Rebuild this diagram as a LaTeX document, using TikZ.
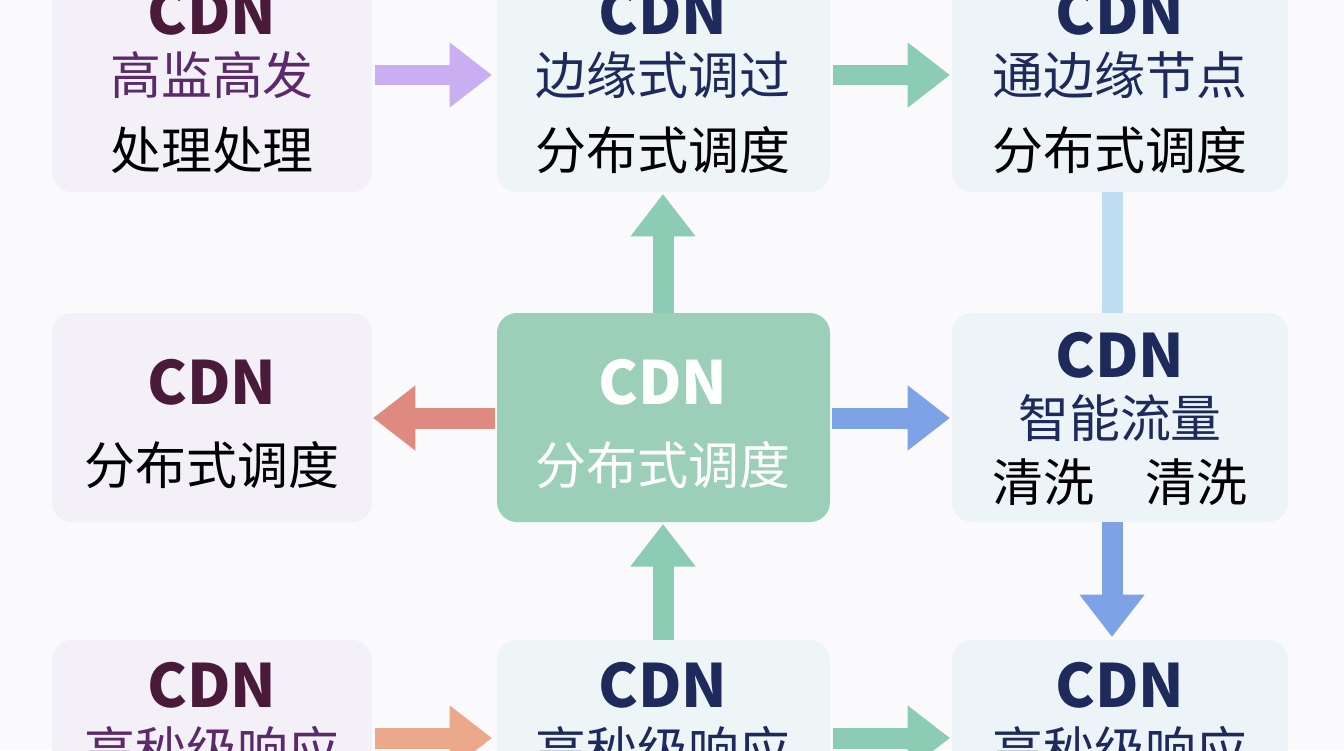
\documentclass[tikz,border=0pt]{standalone}
\usepackage{fontspec}
\setmainfont{Noto Sans CJK SC}
\usetikzlibrary{arrows.meta}
\definecolor{cdnp}{HTML}{4A1A3A}
\definecolor{cdnn}{HTML}{1E2A5C}
\definecolor{zhp}{HTML}{5A2A6A}
\definecolor{boxa}{HTML}{F3F0F8}
\definecolor{boxb}{HTML}{EEF5F7}
\definecolor{boxc}{HTML}{EDF4F8}
\definecolor{ctr}{HTML}{9CCFB8}
\definecolor{apur}{HTML}{C9AEF2}
\definecolor{atea}{HTML}{8CCBB4}
\definecolor{ared}{HTML}{DE8A80}
\definecolor{ablu}{HTML}{7EA2E6}
\definecolor{alb}{HTML}{BFDDF2}
\definecolor{aor}{HTML}{EBA88A}
\definecolor{bg}{HTML}{FAFAFD}
\begin{document}
\begin{tikzpicture}[x=0.02cm,y=-0.02cm,
 box/.style={rounded corners=0.4cm,draw=none},
 cdn/.style={font=\fontsize{34}{36}\selectfont\bfseries},
 zh/.style={font=\fontsize{29}{32}\selectfont},
 arr/.style={line width=0.42cm,-{Triangle[length=0.85cm,width=1.25cm]}}]
\useasboundingbox (0,0) rectangle (1344,750);
\fill[bg] (0,0) rectangle (1344,750);
\begin{scope}
\clip (0,0) rectangle (1344,750);
\fill[box,boxa] (52,-30) rectangle (372,192);
\fill[box,boxb] (497,-30) rectangle (830,192);
\fill[box,boxc] (952,-30) rectangle (1288,192);
\fill[box,boxa] (52,313) rectangle (372,522);
\fill[box,ctr] (497,313) rectangle (830,522);
\fill[box,boxc] (952,313) rectangle (1288,522);
\fill[box,boxa] (52,640) rectangle (372,800);
\fill[box,boxb] (497,640) rectangle (830,800);
\fill[box,boxc] (952,640) rectangle (1288,800);
\node[cdn,text=cdnp] (t1a) at (212,12) {CDN};
\node[zh,text=zhp] (t1b) at (212,75) {高监高发};
\node[zh] (t1c) at (212,150) {处理处理};
\node[cdn,text=cdnn] (t2a) at (663,12) {CDN};
\node[zh,text=cdnn] (t2b) at (663,75) {边缘式调过};
\node[zh] (t2c) at (663,150) {分布式调度};
\node[cdn,text=cdnn] (t3a) at (1120,12) {CDN};
\node[zh,text=cdnn] (t3b) at (1120,75) {通边缘节点};
\node[zh] (t3c) at (1120,150) {分布式调度};
\node[cdn,text=cdnp] (m1a) at (212,382) {CDN};
\node[zh] (m1b) at (212,465) {分布式调度};
\node[cdn,text=white] (m2a) at (663,382) {CDN};
\node[zh,text=white] (m2b) at (663,465) {分布式调度};
\node[cdn,text=cdnn] (m3a) at (1120,355) {CDN};
\node[zh,text=cdnn] (m3b) at (1120,418) {智能流量};
\node[zh] (m3c) at (1120,482) {清洗\quad 清洗};
\node[cdn,text=cdnp] (b1a) at (212,685) {CDN};
\node[zh,text=zhp] (b1b) at (212,750) {高秒级响应};
\node[cdn,text=cdnn] (b2a) at (663,685) {CDN};
\node[zh,text=cdnn] (b2b) at (663,750) {高秒级响应};
\node[cdn,text=cdnn] (b3a) at (1120,685) {CDN};
\node[zh,text=cdnn] (b3b) at (1120,750) {高秒级响应};
\coordinate (a1s) at (375,75); \coordinate (a1e) at (492,75);
\coordinate (a2s) at (833,75); \coordinate (a2e) at (950,75);
\coordinate (v1s) at (1112,192); \coordinate (v1e) at (1112,313);
\coordinate (cus) at (663,313); \coordinate (cue) at (663,194);
\coordinate (cls) at (495,418); \coordinate (cle) at (373,418);
\coordinate (crs) at (832,418); \coordinate (cre) at (950,418);
\coordinate (rds) at (1112,522); \coordinate (rde) at (1112,637);
\coordinate (bus) at (663,640); \coordinate (bue) at (663,524);
\coordinate (b1s) at (375,738); \coordinate (b1e) at (492,738);
\coordinate (b2s) at (833,738); \coordinate (b2e) at (950,738);
\draw[arr,apur] (a1s) -- (a1e);
\draw[arr,atea] (a2s) -- (a2e);
\draw[line width=0.42cm,alb] (v1s) -- (v1e);
\draw[arr,atea] (cus) -- (cue);
\draw[arr,ared] (cls) -- (cle);
\draw[arr,ablu] (crs) -- (cre);
\draw[arr,ablu] (rds) -- (rde);
\draw[arr,atea] (bus) -- (bue);
\draw[arr,aor] (b1s) -- (b1e);
\draw[arr,atea] (b2s) -- (b2e);
\end{scope}
\end{tikzpicture}
\end{document}
